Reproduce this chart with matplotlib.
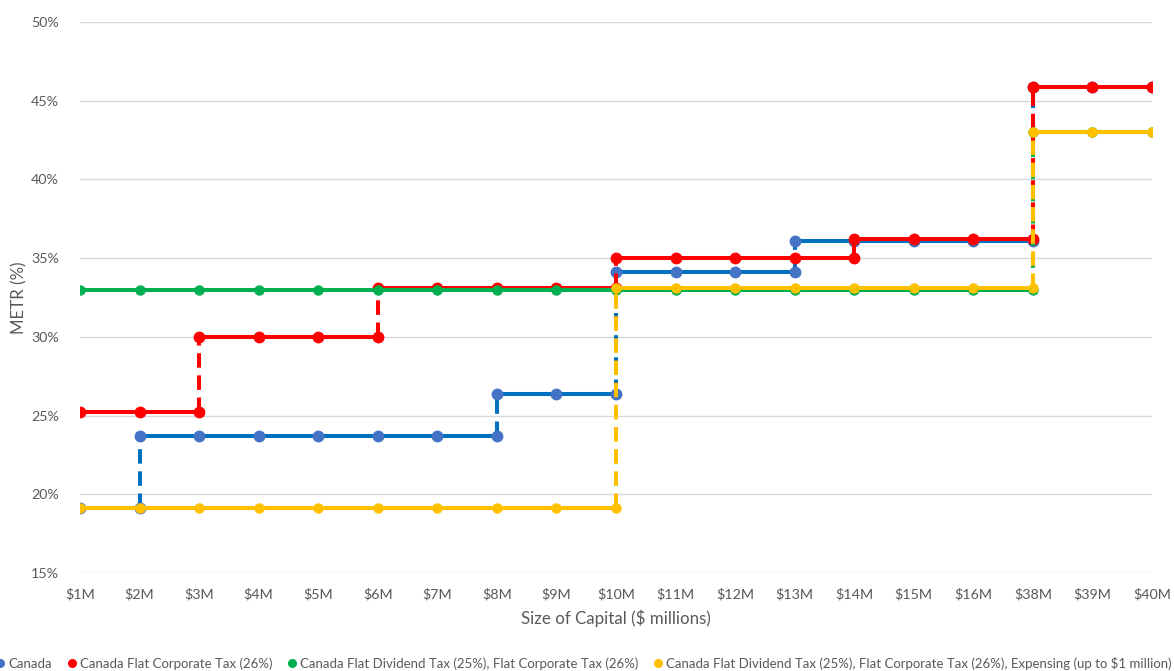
import numpy as np
import matplotlib
matplotlib.use("Agg")
import matplotlib.pyplot as plt
from matplotlib.lines import Line2D

plt.rcParams["font.family"] = ["Lato", "DejaVu Sans"]

# ── Data ──
capital = ["$1M", "$2M", "$3M", "$4M", "$5M", "$6M", "$7M", "$8M", "$9M", "$10M",
           "$11M", "$12M", "$13M", "$14M", "$15M", "$16M", "$38M", "$39M", "$40M"]

canada = [19.1, 23.7, 23.7, 23.7, 23.7, 23.7, 23.7, 26.4, 26.4, 34.1,
          34.1, 34.1, 36.1, 36.1, 36.1, 36.1, 45.9, 45.9, 45.9]
flat_corp = [25.2, 25.2, 30.0, 30.0, 30.0, 33.1, 33.1, 33.1, 33.1, 35.0,
             35.0, 35.0, 35.0, 36.2, 36.2, 36.2, 45.9, 45.9, 45.9]
flat_div_corp = [33.0, 33.0, 33.0, 33.0, 33.0, 33.0, 33.0, 33.0, 33.0, 33.0,
                 33.0, 33.0, 33.0, 33.0, 33.0, 33.0, 43.0, 43.0, 43.0]
flat_div_corp_exp = [19.1, 19.1, 19.1, 19.1, 19.1, 19.1, 19.1, 19.1, 19.1, 33.1,
                     33.1, 33.1, 33.1, 33.1, 33.1, 33.1, 43.0, 43.0, 43.0]

series = [
    ("Canada", canada, "#0070C0", "#4472C4", 7.5),
    ("Canada Flat Corporate Tax (26%)", flat_corp, "#FF0000", "#FF0000", 7.5),
    ("Canada Flat Dividend Tax (25%), Flat Corporate Tax (26%)", flat_div_corp, "#00B050", "#00B050", 6.5),
    ("Canada Flat Dividend Tax (25%), Flat Corporate Tax (26%), Expensing (up to $1 million)",
     flat_div_corp_exp, "#FFC000", "#FFC000", 6.5),
]

fig = plt.figure(figsize=(11.74, 6.71), dpi=100)
ax = fig.add_axes([80 / 1174, 1 - 573 / 671, (1152 - 80) / 1174, (573 - 22) / 671])

x = np.arange(len(capital))
handles = []
for z, (name, vals, lc, mc, ms) in enumerate(series):
    vals = np.asarray(vals)
    zo = 3 + z
    # flat segments solid, jumps dashed
    for i in range(1, len(vals)):
        ax.plot([x[i - 1], x[i]], [vals[i - 1], vals[i - 1]], color=lc, lw=2.9,
                solid_capstyle="butt", zorder=zo)
        if vals[i] != vals[i - 1]:
            ax.plot([x[i], x[i]], [vals[i - 1], vals[i]], color=lc, lw=2.9,
                    linestyle=(0, (3.6, 1.9)), zorder=zo)
            ax.plot(x[i], vals[i - 1], "o", color=mc, ms=ms, zorder=zo + 0.5)
    ax.plot(x, vals, "o", color=mc, ms=ms, linestyle="none", zorder=zo + 0.5)
    handles.append(Line2D([], [], marker="o", color=mc, linestyle="none", ms=5.5, label=name))

ax.set_xlim(0, len(capital) - 1)
ax.set_ylim(15, 50)
ax.set_yticks(np.arange(15, 51, 5))
ax.set_yticklabels([f"{v}%" for v in range(15, 51, 5)])
ax.set_xticks(x)
ax.set_xticklabels(capital)
ax.grid(axis="y", color="#D9D9D9", lw=1)
ax.set_axisbelow(True)
for s in ax.spines.values():
    s.set_visible(False)
ax.tick_params(length=0, colors="#595959", labelsize=10.3)
ax.tick_params(axis="y", pad=15)
ax.tick_params(axis="x", pad=11)

ax.set_xlabel("Size of Capital ($ millions)", color="#595959", fontsize=12.2, labelpad=6)
ax.set_ylabel("METR (%)", color="#595959", fontsize=12.2)
ax.yaxis.set_label_coords(-0.049, 0.5)

fig.legend(handles=handles, loc="center", bbox_to_anchor=(584 / 1174, 1 - 663 / 671),
           ncol=4, frameon=False, fontsize=9.5, handletextpad=0.3,
           columnspacing=1.2, handlelength=0.6, labelcolor="#595959")

plt.savefig("out.png", dpi=100)
